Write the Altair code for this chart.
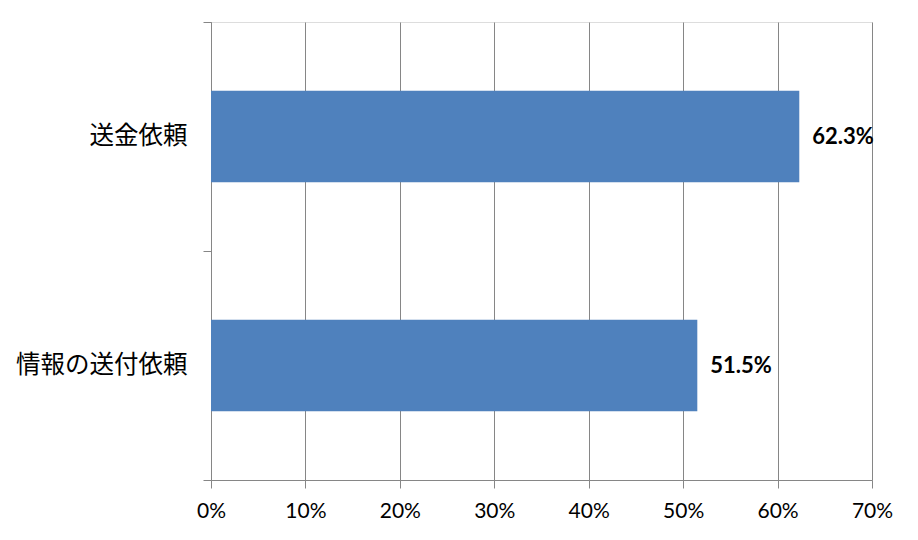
import altair as alt
import pandas as pd

categories = ["送金依頼", "情報の送付依頼"]
values = [62.3, 51.5]
x_ticks = [0, 10, 20, 30, 40, 50, 60, 70]

df = pd.DataFrame({"category": categories, "value": values})
df["label"] = [f"{v:.1f}%" for v in values]

GRAY = "#868686"

y_enc = alt.Y(
    "category:N",
    sort=None,
    scale=alt.Scale(paddingInner=0, paddingOuter=0),
    axis=alt.Axis(
        title=None,
        tickBand="extent",
        ticks=True,
        tickSize=8,
        tickColor=GRAY,
        domainColor=GRAY,
        grid=False,
        labelFont="Noto Sans CJK JP",
        labelFontSize=24.5,
        labelColor="black",
        labelPadding=16,
    ),
)

x_enc = alt.X(
    "value:Q",
    scale=alt.Scale(domain=[0, 70], nice=False),
    axis=alt.Axis(
        title=None,
        values=x_ticks,
        labelExpr="datum.value + '%'",
        labelFlush=False,
        labelBound=False,
        labelOverlap=False,
        tickSize=8,
        tickColor=GRAY,
        domainColor=GRAY,
        grid=True,
        gridColor=GRAY,
        gridOpacity=1,
        labelFont="Lato",
        labelFontSize=21,
        labelColor="black",
        labelPadding=12,
    ),
)

bars = alt.Chart(df).mark_bar(color="#4F81BD", height={"band": 0.4}).encode(
    x=x_enc, y=y_enc
)

text = alt.Chart(df).mark_text(
    align="left", baseline="middle", dx=13, font="Lato", fontSize=22,
    fontWeight="bold", color="black"
).encode(x="value:Q", y=alt.Y("category:N", sort=None), text="label:N")

chart = (
    alt.layer(bars, text)
    .properties(
        width=661,
        height=458,
        autosize=alt.AutoSizeParams(type="none"),
        padding={"left": 203, "top": 14, "right": 38, "bottom": 52},
    )
    .configure_view(stroke=None)
    .configure(background="white")
)

chart.save("out.html", embed_options={"renderer": "svg", "actions": False})
